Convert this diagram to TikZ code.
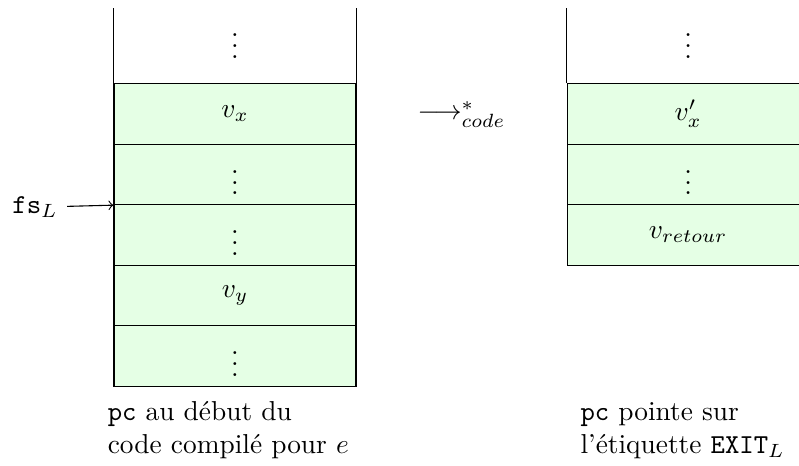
\documentclass[tikz,border=0pt]{standalone}
\usepackage{fontspec}
\usepackage{tikz}
\usetikzlibrary{calc, shapes, arrows}

\begin{document}
\begin{tikzpicture}
\tikzstyle{line} = [draw, ->]
\tikzstyle{cell}=[rectangle,draw,fill=green!10,minimum width=3.107cm,minimum height=0.777cm,inner sep=0pt]
\useasboundingbox (0,0) rectangle (10.257,-5.982);
% pile au debut
\node (L_0) at (3.017,-0.488) {$\vdots$};
\node[cell] (L_1) at (3.017,-1.461) {$v_x$};
\node[cell] (L_2) at (3.017,-2.238) {$\vdots$};
\node[cell] (L_3) at (3.017,-3.015) {$\vdots$};
\node[cell] (L_4) at (3.017,-3.792) {$v_y$};
\node[cell] (L_5) at (3.017,-4.569) {$\vdots$};
\draw (L_1.north west) -- ++(0,0.969);
\draw (L_1.north east) -- ++(0,0.969);
\node (fs) at (0.449,-2.66) {\texttt{fs}$_L$};
\path [line] (fs) -- (L_2.south west);
% reduction
\node[anchor=base] (red) at (5.924,-1.54) {$\longrightarrow^*_{code}$};
% pile a la fin
\node (R_0) at (8.833,-0.488) {$\vdots$};
\node[cell] (R_1) at (8.833,-1.461) {$v'_x$};
\node[cell] (R_2) at (8.833,-2.238) {$\vdots$};
\node[cell] (R_3) at (8.833,-3.015) {$v_{retour}$};
\draw (R_1.north west) -- ++(0,0.969);
\draw (R_1.north east) -- ++(0,0.969);
% legendes
\node[anchor=base west,align=left,inner sep=0pt] (T_L) at (1.377,-5.822) {\texttt{pc} au début du\\code compilé pour $e$};
\node[anchor=base west,align=left,inner sep=0pt] (T_R) at (7.446,-5.822) {\texttt{pc} pointe sur\\l'étiquette \texttt{EXIT}$_L$};
\end{tikzpicture}
\end{document}
